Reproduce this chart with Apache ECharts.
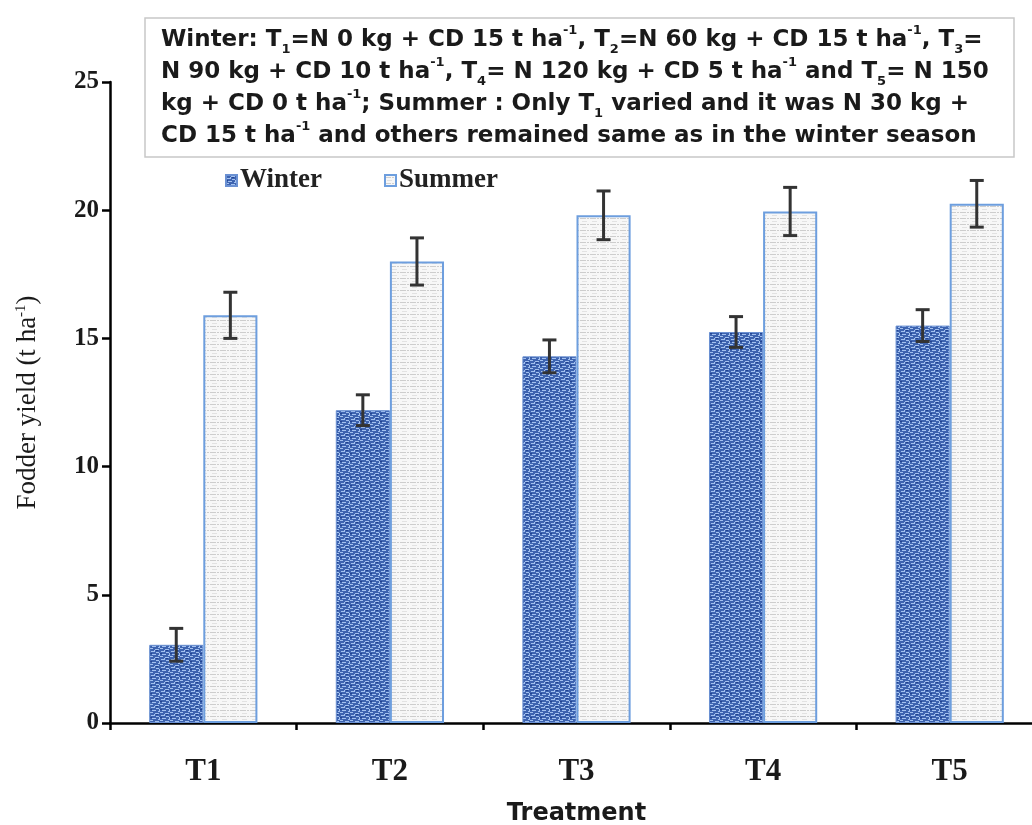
<!DOCTYPE html>
<html>
<head>
<meta charset="utf-8">
<script src="https://cdn.jsdelivr.net/npm/echarts@6/dist/echarts.min.js"></script>
<style>
  html, body { margin: 0; padding: 0; background: #fff; }
  #chart { width: 1032px; height: 825px; }
</style>
</head>
<body>
<div id="chart"></div>
<script>
// data
const treatments = ['T1', 'T2', 'T3', 'T4', 'T5'];
const winter = [3.05, 12.2, 14.3, 15.25, 15.5];
const winterErr = [0.64, 0.6, 0.64, 0.6, 0.62];
const summer = [15.9, 18.0, 19.8, 19.95, 20.25];
const summerErr = [0.9, 0.92, 0.95, 0.94, 0.91];
const yTicks = { min: 0, max: 25, interval: 5 };

const BAR_FRAC = 0.29; // bar width as part of the category band

// textures for the two fills
function winterPattern() {
  const c = document.createElement('canvas');
  c.width = 10; c.height = 8;
  const g = c.getContext('2d');
  g.fillStyle = '#3d63b0';
  g.fillRect(0, 0, 10, 8);
  g.fillStyle = '#a3c1ef';
  g.fillRect(0, 0, 3, 1);
  g.fillRect(5, 1, 4, 1);
  g.fillRect(1, 3, 3, 1);
  g.fillRect(6, 4, 3, 1);
  g.fillRect(2, 6, 4, 1);
  g.fillRect(8, 7, 2, 1);
  g.fillRect(4, 2, 1, 2);
  g.fillRect(9, 5, 1, 2);
  g.fillStyle = '#22438f';
  g.fillRect(6, 2, 2, 1);
  g.fillRect(0, 5, 2, 1);
  return c;
}
function summerPattern() {
  const c = document.createElement('canvas');
  c.width = 10; c.height = 6;
  const g = c.getContext('2d');
  g.fillStyle = '#f7f7f7';
  g.fillRect(0, 0, 10, 6);
  g.fillStyle = '#cdcdcd';
  g.fillRect(0, 2, 6, 1);
  g.fillRect(7, 2, 2, 1);
  g.fillStyle = '#e2e2e2';
  g.fillRect(2, 5, 5, 1);
  return c;
}

const chart = echarts.init(document.getElementById('chart'));

function errorBars(values, errs, side) {
  return {
    type: 'custom',
    silent: true,
    z: 10,
    data: values.map((v, i) => [i, v, errs[i]]),
    encode: { x: 0, y: 1 },
    renderItem: (params, api) => {
      const i = api.value(0), v = api.value(1), e = api.value(2);
      const band = api.size([1, 0])[0];
      const dx = side * band * BAR_FRAC / 2;
      const top = api.coord([i, v + e]);
      const bot = api.coord([i, v - e]);
      const x = top[0] + dx;
      const cap = 7;
      const style = { stroke: '#333', lineWidth: 3 };
      return {
        type: 'group',
        children: [
          { type: 'line', shape: { x1: x, y1: top[1], x2: x, y2: bot[1] }, style },
          { type: 'line', shape: { x1: x - cap, y1: top[1], x2: x + cap, y2: top[1] }, style },
          { type: 'line', shape: { x1: x - cap, y1: bot[1], x2: x + cap, y2: bot[1] }, style }
        ]
      };
    }
  };
}

const serif = 'Liberation Serif';
const sans = 'DejaVu Sans';

chart.setOption({
  backgroundColor: '#fff',
  animation: false,
  title: {
    left: 145,
    top: 18,
    padding: [6, 26, 5, 16],
    borderColor: '#c8c8c8',
    borderWidth: 1.5,
    text: [
      'Winter: T{sub|1}=N 0 kg + CD 15 t ha{sup|-1}, T{sub|2}=N 60 kg + CD 15 t ha{sup|-1}, T{sub|3}=',
      'N 90 kg + CD 10 t ha{sup|-1}, T{sub|4}= N 120 kg + CD 5 t ha{sup|-1} and T{sub|5}= N 150',
      'kg + CD 0 t ha{sup|-1}; Summer : Only T{sub|1} varied and it was N 30 kg +',
      'CD 15 t ha{sup|-1} and others remained same as in the winter season'
    ].join('\n'),
    textStyle: {
      fontFamily: sans,
      fontWeight: 'bold',
      fontSize: 23,
      color: '#1a1a1a',
      lineHeight: 32,
      rich: {
        sup: { fontFamily: sans, fontWeight: 'bold', fontSize: 13, color: '#1a1a1a', verticalAlign: 'top', lineHeight: 22 },
        sub: { fontFamily: sans, fontWeight: 'bold', fontSize: 13, color: '#1a1a1a', verticalAlign: 'bottom', lineHeight: 22 }
      }
    }
  },
  legend: {
    left: 220,
    top: 162,
    itemGap: 62,
    itemWidth: 11,
    itemHeight: 11,
    icon: 'rect',
    textStyle: { fontFamily: serif, fontWeight: 'bold', fontSize: 27, color: '#222', padding: [0, 0, 0, -2] },
    data: ['Winter', 'Summer']
  },
  grid: { left: 110, top: 82, width: 933, height: 641, outerBoundsMode: 'none', containLabel: false },
  xAxis: {
    type: 'category',
    data: treatments,
    name: 'Treatment',
    nameLocation: 'middle',
    nameGap: 79,
    nameTextStyle: { fontFamily: sans, fontWeight: 'bold', fontSize: 24, color: '#1a1a1a' },
    axisLine: { lineStyle: { color: '#000', width: 2.5 } },
    axisTick: { show: true, length: 7, lineStyle: { color: '#000', width: 2.5 } },
    axisLabel: { fontFamily: serif, fontWeight: 'bold', fontSize: 31, color: '#1a1a1a', margin: 33 },
    splitLine: { show: false }
  },
  yAxis: {
    type: 'value',
    min: yTicks.min,
    max: yTicks.max,
    interval: yTicks.interval,
    name: 'Fodder yield (t ha{sup|-1})',
    nameLocation: 'middle',
    nameGap: 69,
    nameTextStyle: {
      fontFamily: serif, fontSize: 27, color: '#1a1a1a',
      rich: { sup: { fontFamily: serif, fontSize: 15, color: '#1a1a1a', verticalAlign: 'top', lineHeight: 16 } }
    },
    axisLine: { show: true, lineStyle: { color: '#000', width: 2.5 } },
    axisTick: { show: true, length: 8, lineStyle: { color: '#000', width: 2.5 } },
    axisLabel: { fontFamily: serif, fontWeight: 'bold', fontSize: 25, color: '#1a1a1a', margin: 11 },
    splitLine: { show: false }
  },
  series: [
    {
      name: 'Winter',
      type: 'bar',
      data: winter,
      barWidth: (BAR_FRAC * 100) + '%',
      barGap: '0%',
      itemStyle: { color: { image: winterPattern(), repeat: 'repeat' }, borderColor: '#6a90d2', borderWidth: 1 }
    },
    {
      name: 'Summer',
      type: 'bar',
      data: summer,
      barWidth: (BAR_FRAC * 100) + '%',
      barGap: '0%',
      itemStyle: { color: { image: summerPattern(), repeat: 'repeat' }, borderColor: '#6d9ede', borderWidth: 2 }
    },
    errorBars(winter, winterErr, -1),
    errorBars(summer, summerErr, 1)
  ]
});
</script>
</body>
</html>
